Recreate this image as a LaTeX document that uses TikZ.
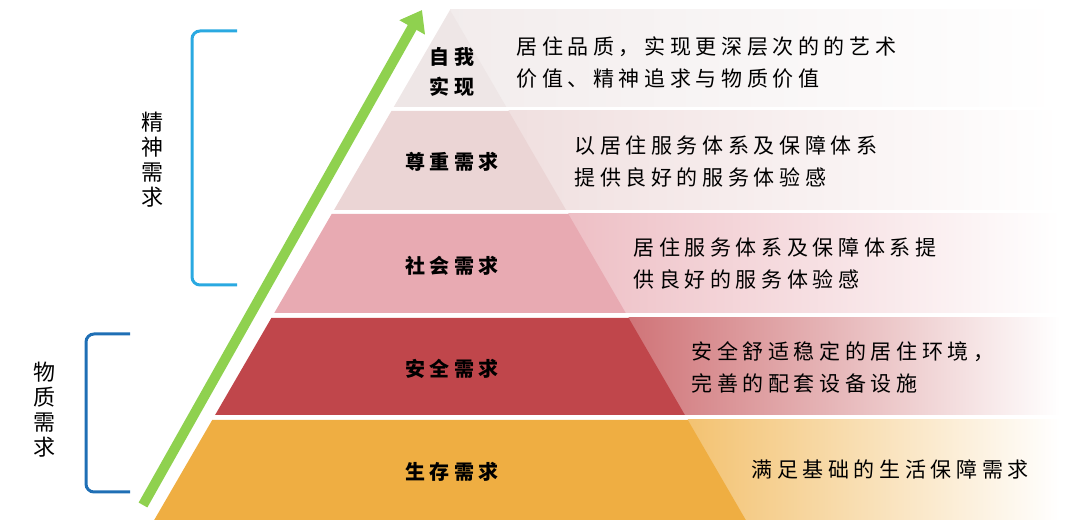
\documentclass[tikz,border=0pt]{standalone}
\usepackage{fontspec}
\newfontfamily\cjk{Noto Sans CJK SC}
\newfontfamily\cjksp{Noto Sans CJK SC}[LetterSpace=22]
\usetikzlibrary{arrows.meta}
\definecolor{cA}{HTML}{EEE6E6}
\definecolor{cB}{HTML}{EBD5D5}
\definecolor{cC}{HTML}{E8AAB2}
\definecolor{cD}{HTML}{C0464B}
\definecolor{cE}{HTML}{EFAE42}
\definecolor{gr}{HTML}{8FD14F}
\definecolor{lb}{HTML}{2AA9E1}
\definecolor{db}{HTML}{1F6FB5}
\tikzset{x=1pt,y=-1pt,
 ttl/.style={font=\cjksp\bfseries\fontsize{20}{30}\selectfont,align=center},
 dsc/.style={font=\cjksp\fontsize{21}{32}\selectfont,align=left,anchor=west},
 side/.style={font=\cjk\fontsize{22}{25}\selectfont,align=center}}
\begin{document}
\begin{tikzpicture}
\useasboundingbox (0,0) rectangle (1080,526);
\foreach \t/\b/\c in {10/107/cA,111/210/cB,214/313/cC,318/415/cD,420/520/cE}{
  \pgfmathsetmacro{\lt}{450-0.58*(\t-10)}
  \pgfmathsetmacro{\rt}{450+0.58*(\t-10)}
  \pgfmathsetmacro{\lb}{450-0.58*(\b-10)}
  \pgfmathsetmacro{\rb}{450+0.58*(\b-10)}
  \shade[left color=\c!75, right color=white] (\rt,\t) rectangle (1060,\b);
  \fill[\c] (\lt,\t) -- (\rt,\t) -- (\rb,\b) -- (\lb,\b) -- cycle;
}
\node[ttl] (t1) at (452,72) {自我\\实现};
\node[ttl] (t2) at (452,162) {尊重需求};
\node[ttl] (t3) at (452,266) {社会需求};
\node[ttl] (t4) at (452,369) {安全需求};
\node[ttl] (t5) at (452,472) {生存需求};
\node[dsc] (d1) at (513,63) {居住品质，实现更深层次的的艺术\\价值、精神追求与物质价值};
\node[dsc] (d2) at (571,162) {以居住服务体系及保障体系\\提供良好的服务体验感};
\node[dsc] (d3) at (630,264) {居住服务体系及保障体系提\\供良好的服务体验感};
\node[dsc] (d4) at (688,367) {安全舒适稳定的居住环境，\\完善的配套设备设施};
\node[dsc] (d5) at (748,470) {满足基础的生活保障需求};
\coordinate (as) at (143,505);
\coordinate (ae) at (422,10);
\draw[gr,line width=10pt,-{Triangle[length=20pt,width=28pt]}] (as) -- (ae);
\draw[lb,line width=3pt,rounded corners=8pt] (237,31) -- (192,31) -- (192,285) -- (237,285);
\draw[db,line width=3pt,rounded corners=8pt] (130,334) -- (86,334) -- (86,492) -- (130,492);
\node[side] (s1) at (152,160) {精\\神\\需\\求};
\node[side] (s2) at (44,410) {物\\质\\需\\求};
\end{tikzpicture}
\end{document}
